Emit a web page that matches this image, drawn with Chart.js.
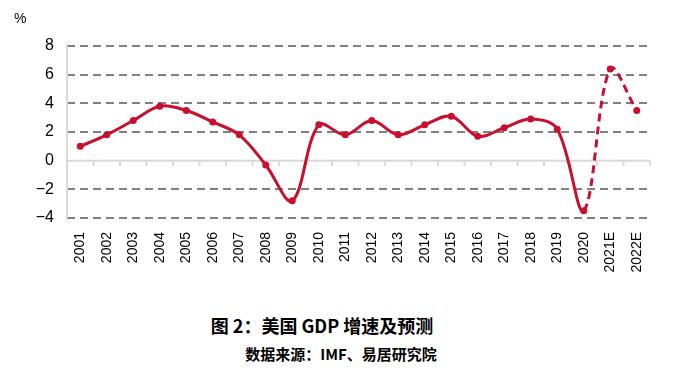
<!DOCTYPE html>
<html>
<head>
<meta charset="utf-8">
<script src="https://cdn.jsdelivr.net/npm/chart.js@4/dist/chart.umd.min.js"></script>
<style>
    body { margin: 0; background: #fff; }
    #wrap { position: relative; width: 694px; height: 376px; }
    #box { position: absolute; left: 0; top: 0; width: 694px; height: 295px; }
    .txt { position: absolute; font-family: "Noto Sans CJK SC", sans-serif; color: #000; white-space: nowrap; }
    #unit { left: 14px; top: 10px; font-family: "Liberation Sans", Arial, sans-serif; font-size: 14px; }
    #title { left: 0; width: 644px; top: 312px; text-align: center; font-size: 18px; font-weight: bold; }
    #source { left: 0; width: 682px; top: 343px; text-align: center; font-size: 15px; font-weight: bold; }
</style>
</head>
<body>
<div id="wrap">
    <div id="box"><canvas id="ChartCanvas"></canvas></div>
    <div class="txt" id="unit">%</div>
    <div class="txt" id="title">图 2：美国 GDP 增速及预测</div>
    <div class="txt" id="source">数据来源：IMF、易居研究院</div>
</div>
<script>
// categories
const years = ['2001', '2002', '2003', '2004', '2005', '2006', '2007', '2008', '2009', '2010', '2011',
               '2012', '2013', '2014', '2015', '2016', '2017', '2018', '2019', '2020', '2021E', '2022E'];

// US GDP growth, %
const gdpGrowth = [1.0, 1.8, 2.8, 3.8, 3.5, 2.7, 1.8, -0.3, -2.8, 2.5, 1.8,
                   2.8, 1.8, 2.5, 3.1, 1.7, 2.3, 2.9, 2.2, -3.5, 6.4, 3.5];

// first index of the forecast part (dashed from 2020 on)
const forecastFrom = 19;

// y axis ticks
const yTicks = [-4, -2, 0, 2, 4, 6, 8];

const lineColor = '#c8102e';

// zero line, left axis line and the tick marks under the zero line
const axisPlugin =
{
    id: 'axisPlugin',
    beforeDatasetsDraw(chart)
    {
        const ctx = chart.ctx;
        const x = chart.scales.x;
        const y = chart.scales.y;
        const y0 = y.getPixelForValue(0);
        ctx.save();
        ctx.strokeStyle = '#d9d9d9';
        ctx.lineWidth = 2;
        ctx.beginPath();
        ctx.moveTo(x.left, y.top);
        ctx.lineTo(x.left, y.bottom);
        ctx.moveTo(x.left, y0);
        ctx.lineTo(x.right, y0);
        const step = (x.right - x.left) / years.length;
        for (let i = 1; i <= years.length; i++)
        {
            const px = x.left + step * i;
            ctx.moveTo(px, y0);
            ctx.lineTo(px, y0 + 5);
        }
        ctx.stroke();
        ctx.restore();
    }
};

const ctx = document.getElementById('ChartCanvas').getContext('2d');

new Chart(ctx,
{
    type: 'line',
    data:
    {
        labels: years,
        datasets:
        [
            {
                label: 'GDP',
                data: gdpGrowth,
                borderColor: lineColor,
                backgroundColor: lineColor,
                borderWidth: 3,
                pointRadius: 3.5,
                pointBorderWidth: 0,
                pointBackgroundColor: lineColor,
                tension: 0.35,
                segment:
                {
                    borderDash: c => c.p0DataIndex >= forecastFrom ? [8, 5] : undefined
                }
            }
        ]
    },
    options:
    {
        responsive: true,
        maintainAspectRatio: false,
        animation: false,
        layout:
        {
            padding: { left: 0, right: 44, top: 46, bottom: 0 }
        },
        plugins:
        {
            legend: { display: false },
            tooltip: { enabled: false }
        },
        scales:
        {
            x:
            {
                offset: true,
                grid: { display: false },
                border: { display: false },
                ticks:
                {
                    minRotation: 90,
                    maxRotation: 90,
                    autoSkip: false,
                    padding: 6,
                    color: '#000',
                    font: { family: '"Liberation Sans", Arial, sans-serif', size: 14 }
                },
                afterFit: scale => { scale.height = 77; }
            },
            y:
            {
                min: -4,
                max: 8,
                afterBuildTicks: scale => { scale.ticks = yTicks.map(v => ({ value: v })); },
                afterFit: scale => { scale.width = 67; },
                grid:
                {
                    drawTicks: false,
                    lineWidth: 2,
                    color: c => c.tick && c.tick.value === 0 ? 'rgba(0,0,0,0)' : '#808080'
                },
                border: { display: false, dash: [8, 5] },
                ticks:
                {
                    padding: 13,
                    color: '#000',
                    font: { family: '"Liberation Sans", Arial, sans-serif', size: 16 },
                    callback: v => v < 0 ? '\u2212' + Math.abs(v) : String(v)
                }
            }
        }
    },
    plugins: [axisPlugin]
});
</script>
</body>
</html>
